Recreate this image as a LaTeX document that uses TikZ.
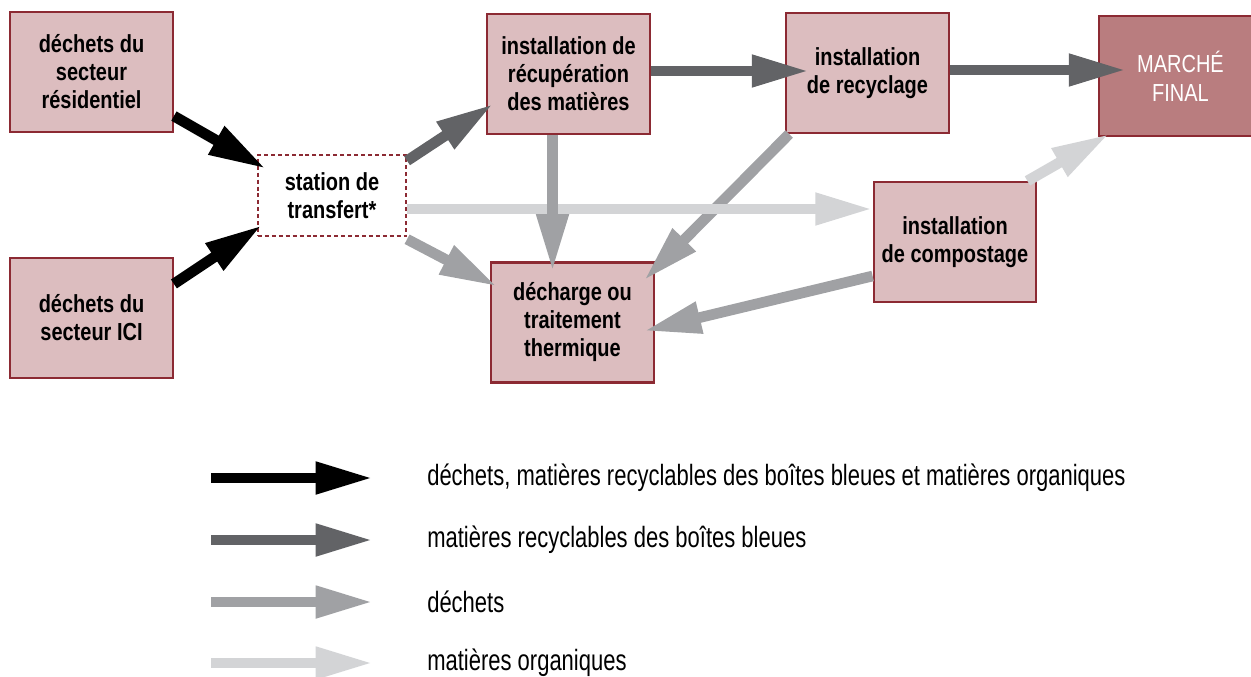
\documentclass[tikz,border=0pt]{standalone}
\usepackage{fontspec}
\setmainfont{Liberation Sans}[FakeStretch=0.81]
\newfontfamily\legfont{Liberation Sans}[FakeStretch=0.75]
\usetikzlibrary{arrows.meta}

\definecolor{boxfill}{HTML}{DCBDBF}
\definecolor{boxline}{HTML}{8C2A33}
\definecolor{marfill}{HTML}{B97D7F}
\definecolor{fluxB}{HTML}{626366}
\definecolor{fluxC}{HTML}{A0A1A4}
\definecolor{fluxD}{HTML}{D3D4D6}

\begin{document}
\begin{tikzpicture}[x=0.75pt,y=-0.75pt,bloc/.style={draw=boxline,line width=1.6pt,fill=boxfill,minimum width=122pt,minimum height=90pt,inner sep=0pt,align=center,font=\fontsize{18.5}{21}\selectfont\bfseries},blocF/.style={bloc,fill=marfill,text=white,font=\fontsize{18.5}{22}\selectfont},blocS/.style={bloc,fill=white,dash pattern=on 3pt off 2.2pt,minimum width=111pt,minimum height=61pt},flux/.style={line width=8pt,-{Triangle[width=22.5pt,length=43pt]}},fluxA/.style={flux,draw=black},fluxBt/.style={flux,draw=fluxB},fluxCt/.style={flux,draw=fluxC},fluxDt/.style={flux,draw=fluxD},legende/.style={anchor=west,inner sep=0pt,font=\legfont\fontsize{22}{24}\selectfont}]
\useasboundingbox (0,0) rectangle (1251,677);

% boites
\node[bloc] (res) at (91.5,72) {déchets du\\secteur\\résidentiel};
\node[bloc] (ici) at (91.5,318) {déchets du\\secteur ICI};
\node[blocS] (sta) at (332,195.5) {station de\\transfert*};
\node[bloc] (rec) at (568.5,74) {installation de\\récupération\\des matières};
\node[bloc] (dec) at (572.5,322.5) {décharge ou\\traitement\\thermique};
\node[bloc] (recy) at (867.5,73) {installation\\de recyclage};
\node[blocF] (mar) at (1180.5,76) {MARCHÉ\\FINAL};
\node[bloc] (comp) at (955,242) {installation\\de compostage};

% fleches
\draw[fluxA] ([shift={(0,-17)}]res.south east) -- ([shift={(9,15)}]sta.north west);
\draw[fluxA] ([shift={(0,27)}]ici.north east) -- ([shift={(5,-12)}]sta.south west);
\draw[fluxBt] ([shift={(0,7)}]sta.north east) -- ([shift={(7,-31)}]rec.south west);
\draw[fluxBt] ([shift={(0,-3)}]rec.east) -- ([shift={(24,-2)}]recy.west);
\draw[fluxBt] ([shift={(0,-3)}]recy.east) -- ([shift={(28,-6)}]mar.west);
\draw[fluxCt] ([shift={(0,2)}]sta.south east) -- ([shift={(7,25)}]dec.north west);
\draw[fluxCt] ([shift={(4,0)}]recy.south west) -- ([shift={(-11,19)}]dec.north east);
\draw[fluxDt] ([shift={(0,13.5)}]sta.east) -- ([shift={(0,-33)}]comp.west);
\draw[fluxDt] ([shift={(-10,0)}]comp.north east) -- ([shift={(11,-3)}]mar.south west);
\draw[fluxCt] ([shift={(-16,0)}]rec.south) -- ([shift={(-20,10)}]dec.north);
\draw[fluxCt] ([shift={(0,34)}]comp.west) -- ([shift={(-11,8.5)}]dec.east);

% legende
\coordinate (la) at (211,478);
\coordinate (lb) at (211,540);
\coordinate (lc) at (211,602);
\coordinate (ld) at (211,663);
\coordinate (la2) at (373,478);
\coordinate (lb2) at (373,540);
\coordinate (lc2) at (373,602);
\coordinate (ld2) at (373,663);
\draw[fluxA] (la) -- (la2);
\draw[fluxBt] (lb) -- (lb2);
\draw[fluxCt] (lc) -- (lc2);
\draw[fluxDt] (ld) -- (ld2);
\node[legende] (ta) at (427,478) {déchets, matières recyclables des boîtes bleues et matières organiques};
\node[legende] (tb) at (427,540) {matières recyclables des boîtes bleues};
\node[legende] (tc) at (427,602) {déchets};
\node[legende] (td) at (427,663) {matières organiques};

\end{tikzpicture}
\end{document}
